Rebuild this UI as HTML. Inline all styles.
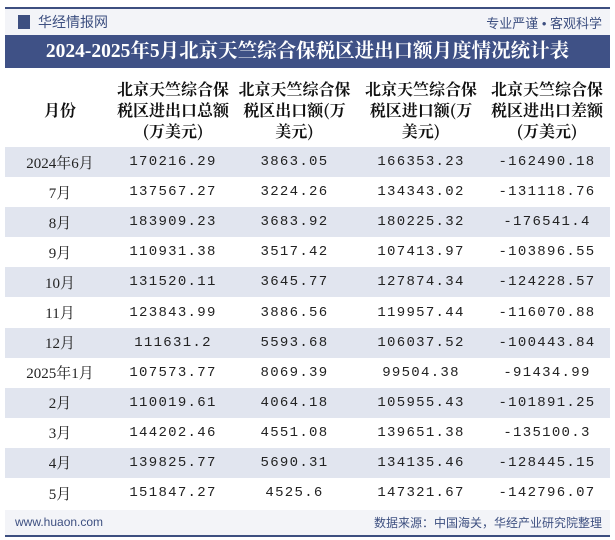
<!DOCTYPE html>
<html><head><meta charset="utf-8"><style>
body{margin:0;width:615px;height:540px;background:#fff;font-family:"Liberation Sans","Noto Sans CJK SC",sans-serif;position:relative;overflow:hidden}
.abs{position:absolute}
#topline{left:5px;top:7px;width:605px;height:2px;background:#3d4f80}
#hdr{left:5px;top:9px;width:605px;height:26px;background:#f3f4f8}
#title{left:5px;top:35px;width:605px;height:33px;background:#3f5186;color:#fff;font-family:"Liberation Serif","Noto Serif CJK SC",serif;font-weight:bold;font-size:19.5px;text-align:center;line-height:33px}
table{position:absolute;left:5px;top:72px;width:605px;border-collapse:collapse}
th{font-family:"Noto Serif CJK SC",serif;font-size:16px;font-weight:bold;line-height:21px;height:75px;padding:0;color:#111}
td{height:30.1px;padding:0;text-align:center;font-family:"Liberation Mono","Noto Serif CJK SC",monospace;font-size:14px;letter-spacing:1.3px;color:#222}
td:first-child{font-family:"Liberation Serif","Noto Serif CJK SC",serif;font-size:15px;letter-spacing:0}
tr.s td{background:#e1e5ef}
#foot{left:5px;top:510px;width:605px;height:25px;background:#f3f4f8}
#botline{left:5px;top:535px;width:605px;height:2px;background:#3d4f80}
</style></head><body>
<div class="abs" id="topline"></div>
<div class="abs" id="hdr">
<div class="abs" style="left:13px;top:6px;width:12px;height:14px;background:#3d4f80"></div>
<div class="abs" style="left:33px;top:3px;font-size:14px;color:#3d4f80">华经情报网</div>
<div class="abs" style="right:8px;top:4px;font-size:13px;color:#3d4f80">专业严谨 • 客观科学</div>
</div>
<div class="abs" id="title">2024-2025年5月北京天竺综合保税区进出口额月度情况统计表</div>
<table>
<colgroup><col style="width:110px"><col style="width:116px"><col style="width:127px"><col style="width:126px"><col style="width:126px"></colgroup>
<tr><th>月份</th><th>北京天竺综合保<br>税区进出口总额<br>(万美元)</th><th>北京天竺综合保<br>税区出口额(万<br>美元)</th><th>北京天竺综合保<br>税区进口额(万<br>美元)</th><th>北京天竺综合保<br>税区进出口差额<br>(万美元)</th></tr>
<tr class="s"><td>2024年6月</td><td>170216.29</td><td>3863.05</td><td>166353.23</td><td>-162490.18</td></tr>
<tr><td>7月</td><td>137567.27</td><td>3224.26</td><td>134343.02</td><td>-131118.76</td></tr>
<tr class="s"><td>8月</td><td>183909.23</td><td>3683.92</td><td>180225.32</td><td>-176541.4</td></tr>
<tr><td>9月</td><td>110931.38</td><td>3517.42</td><td>107413.97</td><td>-103896.55</td></tr>
<tr class="s"><td>10月</td><td>131520.11</td><td>3645.77</td><td>127874.34</td><td>-124228.57</td></tr>
<tr><td>11月</td><td>123843.99</td><td>3886.56</td><td>119957.44</td><td>-116070.88</td></tr>
<tr class="s"><td>12月</td><td>111631.2</td><td>5593.68</td><td>106037.52</td><td>-100443.84</td></tr>
<tr><td>2025年1月</td><td>107573.77</td><td>8069.39</td><td>99504.38</td><td>-91434.99</td></tr>
<tr class="s"><td>2月</td><td>110019.61</td><td>4064.18</td><td>105955.43</td><td>-101891.25</td></tr>
<tr><td>3月</td><td>144202.46</td><td>4551.08</td><td>139651.38</td><td>-135100.3</td></tr>
<tr class="s"><td>4月</td><td>139825.77</td><td>5690.31</td><td>134135.46</td><td>-128445.15</td></tr>
<tr><td>5月</td><td>151847.27</td><td>4525.6</td><td>147321.67</td><td>-142796.07</td></tr>
</table>
<div class="abs" id="foot">
<div class="abs" style="left:10px;top:5px;font-size:12px;color:#3d4f80">www.huaon.com</div>
<div class="abs" style="right:8px;top:4px;font-size:12px;color:#3d4f80">数据来源：中国海关，华经产业研究院整理</div>
</div>
<div class="abs" id="botline"></div>
</body></html>
